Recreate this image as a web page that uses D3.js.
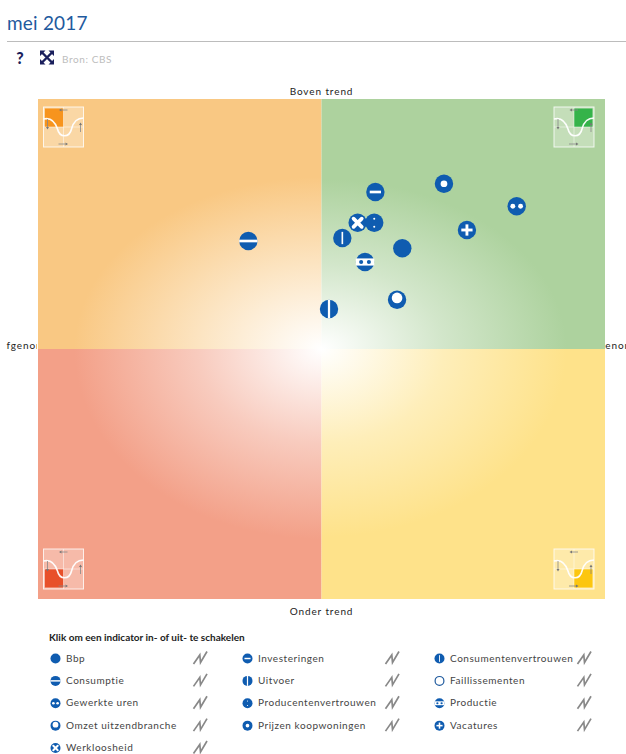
<!DOCTYPE html>
<html><head><meta charset="utf-8">
<script src="https://cdnjs.cloudflare.com/ajax/libs/d3/7.8.5/d3.min.js"></script>
<style>html,body{margin:0;padding:0;background:#fff;overflow:hidden}svg{display:block}
text{font-family:Lato,"Noto Sans",sans-serif}</style></head><body>
<svg id="c" width="626" height="754"></svg>
<script>
const chartTitle = "mei 2017";
const source = "Bron: CBS";
const topLabel = "Boven trend", bottomLabel = "Onder trend";
const leftLabel = "Afgenomen", rightLabel = "Toegenomen";
const legendTitle = "Klik om een indicator in- of uit- te schakelen";
const indicators = ["Bbp","Consumptie","Gewerkte uren","Omzet uitzendbranche","Werkloosheid","Investeringen","Uitvoer","Producentenvertrouwen","Prijzen koopwoningen","Consumentenvertrouwen","Faillissementen","Productie","Vacatures"];
const glyphs = ["solid","band","twoDots","bigHole","cross","dash","vband","colon","ring","bar","open","bandDots","plus"];
const changeValues = [0.57,-0.516,1.377,0.533,0.255,0.38,0.053,0.372,0.864,0.147,null,0.307,1.026];
const trendValues = [0.806,0.864,1.142,0.394,1.01,1.256,0.32,1.01,1.322,0.888,null,0.696,0.952];
const columnCounts = [5,4,4];

const svg = d3.select("#c");
const x = d3.scaleLinear().domain([-2,2]).range([38,605]);
const y = d3.scaleLinear().domain([-2,2]).range([599,99]);
const BLUE = "#0f5cb0";

const defs = svg.append("defs");
defs.append("clipPath").attr("id","lc").append("rect").attr("x",6).attr("y",330).attr("width",31).attr("height",30);
svg.append("text").attr("clip-path","url(#lc)").attr("x",-1).attr("y",349).attr("font-size",10).attr("letter-spacing",0.9).attr("fill","#222").text(leftLabel);
svg.append("text").attr("x",581).attr("y",349).attr("font-size",10).attr("letter-spacing",0.9).attr("fill","#222").text(rightLabel);

svg.append("text").attr("x",7).attr("y",30).attr("font-size",19).attr("letter-spacing",0.2).attr("fill","#1f5a9e").text(chartTitle);
svg.append("line").attr("x1",7).attr("x2",626).attr("y1",41.5).attr("y2",41.5).attr("stroke","#bcbcbc");
svg.append("text").attr("x",20).attr("y",64).attr("text-anchor","middle").attr("font-size",16).attr("font-weight",900).attr("fill","#1a1f5c").text("?");
const ex = svg.append("g").attr("transform","translate(47,57.5)").attr("stroke","#1a1f5c").attr("fill","#1a1f5c");
ex.append("path").attr("d","M-5,-5L5,5M5,-5L-5,5").attr("stroke-width",2.4);
ex.append("path").attr("stroke","none").attr("d","M-7,-7h5.5l-5.5,5.5zM7,-7v5.5l-5.5,-5.5zM-7,7v-5.5l5.5,5.5zM7,7h-5.5l5.5,-5.5z");
svg.append("text").attr("x",62).attr("y",63).attr("font-size",10).attr("letter-spacing",0.6).attr("fill","#bdbdbd").text(source);

const quads = [
 {k:"tl",c:"#f9c883",d:"#f7941d",x0:-2,x1:0,y0:2,y1:0,rx:247,ry:172,mid:0.5,left:true,ic:43.5},
 {k:"tr",c:"#add29e",d:"#35b34a",x0:0,x1:2,y0:2,y1:0,rx:245,ry:170,mid:0.55,left:false,ic:554},
 {k:"bl",c:"#f3a088",d:"#e8502a",x0:-2,x1:0,y0:0,y1:-2,rx:247,ry:190,mid:0.55,left:true,ic:43.5},
 {k:"br",c:"#fee28a",d:"#fcc60f",x0:0,x1:2,y0:0,y1:-2,rx:245,ry:188,mid:0.6,left:false,ic:554}];
quads.forEach(q=>{
  const g=defs.append("radialGradient").attr("id","g"+q.k).attr("gradientUnits","userSpaceOnUse")
    .attr("cx",0).attr("cy",0).attr("r",1).attr("gradientTransform",`translate(${x(0)},${y(0)}) scale(${q.rx},${q.ry})`);
  g.append("stop").attr("offset",0).attr("stop-color","#fff");
  g.append("stop").attr("offset",0.5).attr("stop-color",d3.interpolateRgb("#fff",q.c)(q.mid));
  g.append("stop").attr("offset",1).attr("stop-color",q.c);
  svg.append("rect").attr("x",x(q.x0)).attr("y",y(q.y0)).attr("width",x(q.x1)-x(q.x0)).attr("height",y(q.y1)-y(q.y0)).attr("fill",`url(#g${q.k})`);
});
quads.forEach(q=>{
  const s=40, top=q.y0===2, ox=q.ic, oy=top?107:549, m=svg.append("g").attr("transform",`translate(${ox},${oy})`);
  m.append("rect").attr("width",s).attr("height",s).attr("fill","#fff").attr("fill-opacity",0.28).attr("stroke","#fff").attr("stroke-opacity",0.8);
  const dx=q.left?1.5:20, dy=top?1.5:20;
  m.append("rect").attr("x",dx).attr("y",dy).attr("width",18.5).attr("height",18.5).attr("fill",q.d);
  m.append("path").attr("d","M0,12C8,10 12,16 14,22C16,31 26,31 28,22C30,14 34,11 40,11").attr("fill","none").attr("stroke","#fff").attr("stroke-width",1.6).attr("stroke-opacity",0.95);
  m.append("path").attr("d","M20,0V40M0,20H40").attr("stroke","#fff").attr("stroke-opacity",0.6).attr("stroke-width",0.8);
  m.append("path").attr("d","M24,3H18M15,37H22M4,12V20M37,25V18").attr("stroke","#888").attr("stroke-width",0.8).attr("fill","none");
  m.append("path").attr("fill","#777").attr("d","M18,1.5v3l-2.5,-1.5zM22,35.5v3l2.5,-1.5zM2.5,20h3l-1.5,2.5zM35.5,18h3l-1.5,-2.5z");
});

svg.append("text").attr("x",321.5).attr("y",95).attr("text-anchor","middle").attr("font-size",10).attr("letter-spacing",0.9).attr("fill","#222").text(topLabel);
svg.append("text").attr("x",321.5).attr("y",615).attr("text-anchor","middle").attr("font-size",10).attr("letter-spacing",0.9).attr("fill","#222").text(bottomLabel);

function glyph(sel,type,r){
  const k=r/9, W="#fff";
  if(type==="open"){sel.append("circle").attr("r",r-0.6).attr("fill","#fff").attr("stroke","#1f5a9e").attr("stroke-width",1.2);return;}
  sel.append("circle").attr("r",r).attr("fill",BLUE);
  const rect=(a,b,w,h)=>sel.append("rect").attr("x",(a-w/2)*k).attr("y",(b-h/2)*k).attr("width",w*k).attr("height",h*k).attr("fill",W);
  const dot=(a,b,d,f)=>sel.append("circle").attr("cx",a*k).attr("cy",b*k).attr("r",d*k).attr("fill",f||W);
  if(type==="band")rect(0,0,18,2.6);
  if(type==="vband")rect(0,0,2.2,18);
  if(type==="dash")rect(0,0,11,2.6);
  if(type==="bar")rect(0,0,1.6,12);
  if(type==="colon"){dot(0,-4,1,W);dot(0,4,1,W);}
  if(type==="twoDots"){dot(-3.8,0,2.4);dot(3.8,0,2.4);}
  if(type==="bandDots"){rect(0,0,18,7);dot(-3.8,0,2,BLUE);dot(3.8,0,2,BLUE);}
  if(type==="bigHole")dot(0,-1.8,5.2);
  if(type==="ring")dot(0,0,3.3);
  if(type==="plus"){rect(0,0,11,2.8);rect(0,0,2.8,11);}
  if(type==="cross")sel.append("path").attr("d",`M${-4*k},${-4*k}L${4*k},${4*k}M${4*k},${-4*k}L${-4*k},${4*k}`).attr("stroke",W).attr("stroke-width",3.6*k).attr("stroke-linecap","round");
}

const rows = indicators.map((n,i)=>({n,t:glyphs[i],cx:changeValues[i],ty:trendValues[i]}));
rows.filter(d=>d.cx!==null).sort((a,b)=>(b.n==="Werkloosheid")-(a.n==="Werkloosheid")).forEach(d=>{
  glyph(svg.append("g").attr("transform",`translate(${x(d.cx)},${y(d.ty)})`),d.t,9.2);
});

svg.append("text").attr("x",49).attr("y",641).attr("font-size",10).attr("font-weight",700).attr("fill","#222").text(legendTitle);
const colX=[55.5,247.5,439.5], rowY=d3.scaleLinear().domain([0,4]).range([658.5,748]);
let idx=0;
columnCounts.forEach((n,ci)=>{
  for(let ri=0;ri<n;ri++,idx++){
    const ly=rowY(ri), d=rows[idx];
    glyph(svg.append("g").attr("transform",`translate(${colX[ci]},${ly})`),d.t,5);
    svg.append("text").attr("x",colX[ci]+10.5).attr("y",ly+3).attr("font-size",10).attr("letter-spacing",0.55).attr("fill","#444").text(d.n);
    svg.append("path").attr("transform",`translate(${colX[ci]+138},${ly})`).attr("d","M0,5.5L6.3,-3.5L7,4L13.5,-7").attr("fill","none").attr("stroke","#888").attr("stroke-width",1.7);
  }
});
</script></body></html>
